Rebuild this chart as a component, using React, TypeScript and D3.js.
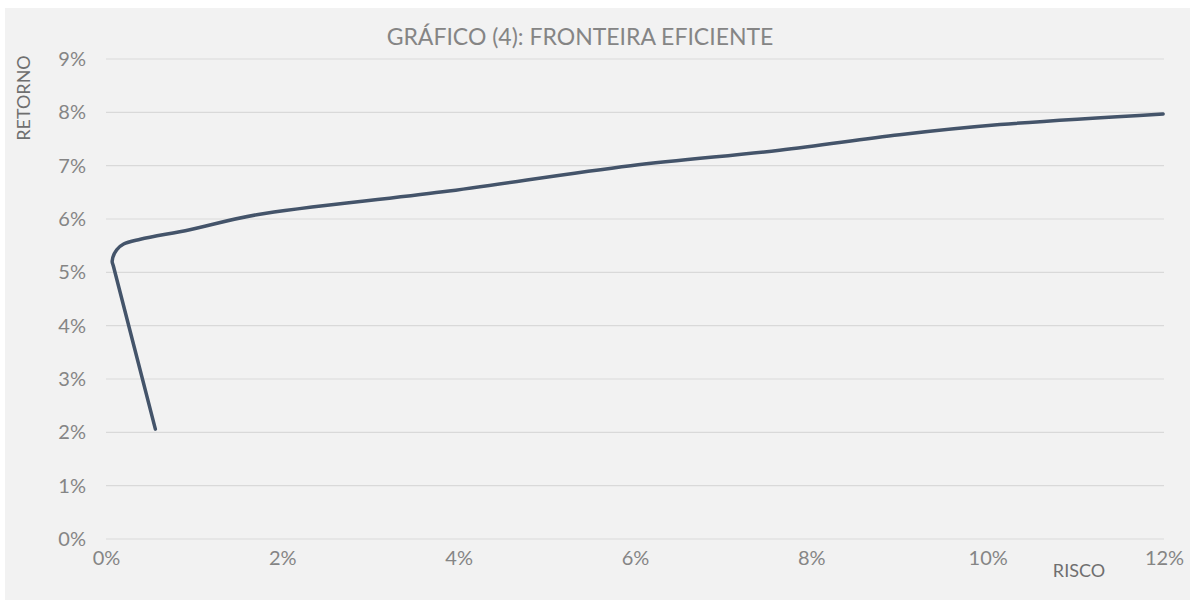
import * as d3 from "d3";
import React, { useRef, useEffect } from "react";

const width = 1190;
const height = 600;
const margin = { top: 59, right: 26, bottom: 61, left: 106 };

// risco (%) e retorno (%)
const risco = [0.56, 0.085, 0.07, 0.12, 0.2, 0.39, 0.95, 1.71, 3.82, 5.95, 7.64, 9.0, 10.14, 11.99];
const retorno = [2.06, 5.11, 5.21, 5.42, 5.53, 5.62, 5.8, 6.08, 6.51, 7.0, 7.29, 7.58, 7.77, 7.97];

const xTicks = [0, 2, 4, 6, 8, 10, 12];
const yTicks = [0, 1, 2, 3, 4, 5, 6, 7, 8, 9];

const font = "Lato, 'Open Sans', sans-serif";
const textColor = "#858585";

export default function App() {
  const ref = useRef(null);

  useEffect(() => {
    const svg = d3.select(ref.current);
    svg.selectAll("*").remove();

    // background panel
    svg
      .append("rect")
      .attr("x", 5)
      .attr("y", 8)
      .attr("width", width - 5)
      .attr("height", height - 8)
      .attr("fill", "#f2f2f2");

    var scaleX = d3
      .scaleLinear()
      .domain([0, 12])
      .range([margin.left, width - margin.right]);
    var scaleY = d3
      .scaleLinear()
      .domain([0, 9])
      .range([height - margin.bottom, margin.top]);

    // grid lines
    svg
      .append("g")
      .selectAll("line")
      .data(yTicks)
      .join("line")
      .attr("x1", scaleX(0))
      .attr("x2", scaleX(12))
      .attr("y1", (d: number) => scaleY(d))
      .attr("y2", (d: number) => scaleY(d))
      .attr("stroke", "#d9d9d9")
      .attr("stroke-width", 1.2);

    // Y Axis
    const yAxis = svg
      .append("g")
      .attr("transform", `translate(${margin.left - 20}, 0)`)
      .call(
        d3
          .axisLeft(scaleY)
          .tickValues(yTicks)
          .tickSize(0)
          .tickFormat((d: any) => d + "%")
      );
    yAxis.select(".domain").remove();
    yAxis
      .selectAll("text")
      .attr("x", 0)
      .style("font-family", font)
      .style("font-size", "20px")
      .attr("fill", textColor);

    // X Axis
    const xAxis = svg
      .append("g")
      .attr("transform", `translate(0, ${height - margin.bottom + 12})`)
      .call(
        d3
          .axisBottom(scaleX)
          .tickValues(xTicks)
          .tickSize(0)
          .tickFormat((d: any) => d + "%")
      );
    xAxis.select(".domain").remove();
    xAxis
      .selectAll("text")
      .attr("y", 0)
      .attr("dy", "0.71em")
      .style("font-family", font)
      .style("font-size", "20px")
      .attr("fill", textColor);

    // curve
    const points = risco.map((r, i) => [r, retorno[i]] as [number, number]);
    const line = d3
      .line<[number, number]>()
      .x((d) => scaleX(d[0]))
      .y((d) => scaleY(d[1]))
      .curve(d3.curveCatmullRom.alpha(0.5));
    svg
      .append("path")
      .attr("d", line(points))
      .attr("fill", "none")
      .attr("stroke", "#44546a")
      .attr("stroke-width", 3.5)
      .attr("stroke-linejoin", "round")
      .attr("stroke-linecap", "round");

    // Chart Title
    svg
      .append("text")
      .attr("x", 580)
      .attr("y", 45)
      .attr("text-anchor", "middle")
      .style("font-family", font)
      .style("font-size", "23px")
      .attr("fill", textColor)
      .text("GRÁFICO (4): FRONTEIRA EFICIENTE");

    // axis titles
    svg
      .append("text")
      .attr("transform", `translate(30, 98) rotate(-90)`)
      .attr("text-anchor", "middle")
      .style("font-family", font)
      .style("font-size", "18px")
      .attr("fill", "#6f6f6f")
      .text("RETORNO");

    svg
      .append("text")
      .attr("x", 1079)
      .attr("y", 577)
      .attr("text-anchor", "middle")
      .style("font-family", font)
      .style("font-size", "18px")
      .attr("fill", "#6f6f6f")
      .text("RISCO");
  }, []);

  return (
    <div style={{ position: "absolute", left: 0, top: 0 }}>
      <svg ref={ref} width={width} height={height} style={{ display: "block" }}></svg>
    </div>
  );
}
